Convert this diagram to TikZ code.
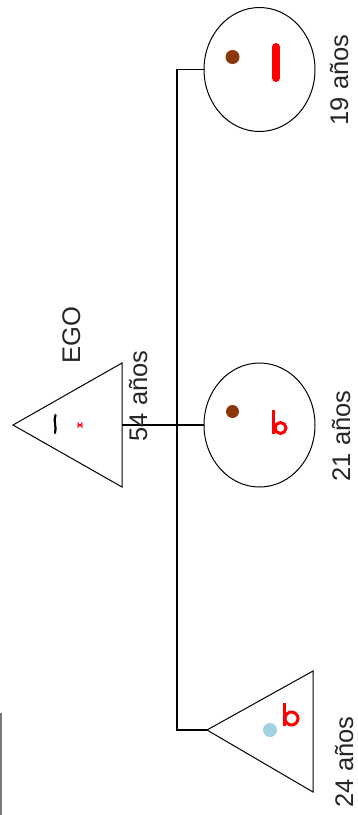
\documentclass[tikz,border=0pt]{standalone}
\usepackage{fontspec}
\setmainfont{Liberation Sans}
\usetikzlibrary{shapes.geometric}
\definecolor{dotbrown}{RGB}{140,55,10}
\definecolor{dotblue}{RGB}{160,210,225}
\definecolor{edgegray}{RGB}{120,120,120}
\tikzset{
  person/.style={ellipse, draw=black, line width=1pt, minimum width=111pt, minimum height=124pt, inner sep=0pt, outer sep=0pt},
  tri/.style={draw=black, line width=1pt, line join=miter},
  conn/.style={draw=black, line width=1.2pt},
  lbl/.style={font=\fontsize{25.5}{30}\selectfont, text=black!85, inner sep=0pt, rotate=90, anchor=base},
  redmark/.style={draw=red, line width=3pt},
}
\begin{document}
\begin{tikzpicture}[x=1pt, y=-1pt]
\useasboundingbox (0,0) rectangle (357,815);
% females (circles)
\node[person] (d19) at (259.5,69.5) {};
\node[person] (d21) at (259.5,425) {};
% triangles (EGO and son)
\coordinate (egoA) at (13,425);
\coordinate (egoT) at (122,363);
\coordinate (egoB) at (122,487);
\coordinate (egoR) at (122,425);
\draw[tri] (egoA) -- (egoT) -- (egoB) -- cycle;
\coordinate (s24A) at (207,730);
\coordinate (s24T) at (313,671);
\coordinate (s24B) at (313,792);
\draw[tri] (s24A) -- (s24T) -- (s24B) -- cycle;
% connectors
\coordinate (busTop) at (177,69.5);
\draw[conn] (d19.west) -- (busTop) |- (s24A);
\draw[conn] (d21.west) -- (egoR);
% marks inside circle 19
\fill[dotbrown] (232.5,57) circle (7);
\draw[red, line width=8pt, line cap=round] (276,47) -- (276,78);
% marks inside circle 21
\fill[dotbrown] (232.5,411.5) circle (6.5);
\draw[redmark] (273.5,410) -- (273.5,434);
\draw[redmark] (280.5,428) circle (5.5);
% marks inside EGO
\draw[black, line width=2.2pt, line cap=round] (55.5,415) .. controls (53,420) and (57,428) .. (55,433);
\draw[red, line width=1pt] (77.5,422.5) -- (82.5,427.5) (77.5,427.5) -- (82.5,422.5) (77,425) -- (83,425);
% marks inside son triangle
\fill[dotblue] (270,730) circle (7);
\draw[redmark] (284,703) -- (284,726);
\draw[redmark] (291.5,718.5) circle (6.5);
% left edge line
\draw[edgegray, line width=1.5pt] (1,713) -- (1,815);
% labels
\node[lbl] (t19) at (348,80) {19 años};
\node[lbl] (t21) at (350,436) {21 años};
\node[lbl] (t24) at (353,762) {24 años};
\node[lbl] (t54) at (147,396) {54 años};
\node[lbl] (tego) at (80,335) {EGO};
\end{tikzpicture}
\end{document}
